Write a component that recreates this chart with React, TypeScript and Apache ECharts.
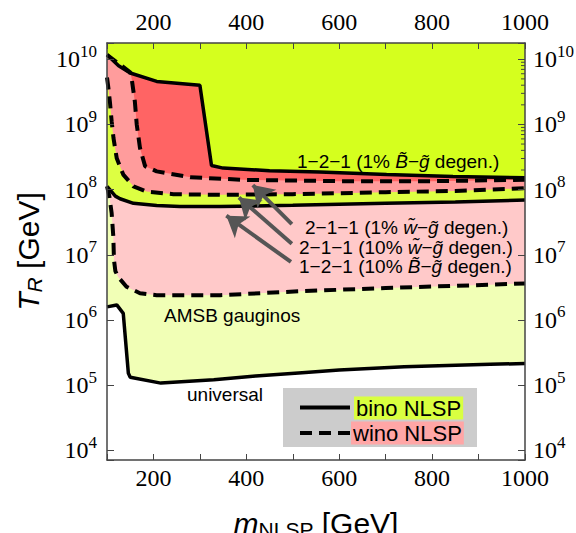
import React, { useEffect, useRef } from 'react';
import * as echarts from 'echarts';

// NLSP mass [GeV] and log10(T_R / GeV)
const binoUpperM = [100, 125, 150, 207, 300, 325, 350, 450, 558, 702, 845, 1000];
const binoUpperLogT = [10.07, 9.9, 9.79, 9.66, 9.6, 8.37, 8.33, 8.29, 8.27, 8.23, 8.2, 8.18];

const winoUpperM = [100, 150, 153, 160, 164, 171, 182, 207, 279, 394, 600, 800, 1000];
const winoUpperLogT = [10.07, 9.8, 9.71, 9.35, 9.0, 8.64, 8.36, 8.28, 8.19, 8.15, 8.13, 8.13, 8.15];

const winoMidM = [100, 103, 106.5, 110, 114, 121, 135, 157, 185, 243, 343, 500, 700, 850, 1000];
const winoMidLogT = [9.72, 9.56, 9.33, 9.05, 8.79, 8.48, 8.23, 8.05, 7.97, 7.93, 7.92, 7.93, 7.96, 7.98, 8.02];

const binoMidM = [100, 106, 118, 128, 157, 207, 257, 343, 500, 700, 850, 1000];
const binoMidLogT = [8.05, 8.0, 7.9, 7.86, 7.79, 7.755, 7.74, 7.74, 7.76, 7.79, 7.81, 7.84];

const amsbM = [100, 105, 110, 113.6, 115, 118, 124, 142, 171, 207, 257, 344, 516, 700, 925, 1000];
const amsbLogT = [8.05, 7.9, 7.64, 7.28, 6.92, 6.75, 6.66, 6.51, 6.41, 6.38, 6.38, 6.38, 6.44, 6.49, 6.54, 6.56];

const universalM = [100, 121, 135, 146, 150, 216, 330, 420, 520, 600, 740, 925, 1000];
const universalLogT = [6.2, 6.23, 6.1, 5.18, 5.12, 5.03, 5.08, 5.14, 5.19, 5.23, 5.28, 5.32, 5.33];

// arrows: [m, log10 T] tails and heads
const arrowTails = [[498, 7.47], [498, 7.17], [496, 6.89]];
const arrowHeads = [[414, 8.07], [384, 7.88], [357, 7.6]];

const xMin = 100;
const xMax = 1000;
const yMin = 3.85;
const yMax = 10.25;
const xLabelStep = 200;

const SANS = 'Liberation Sans';
const SERIF = 'Liberation Serif';
const AXIS_COLOR = '#444';
const ANN_SIZE = 19;

const pairs = (m: number[], t: number[]) => m.map((v, i) => [v, t[i]]);

const isInt = (v: number) => Math.abs(v - Math.round(v)) < 1e-6;

const yLabelRich = {
  b: { fontFamily: SERIF, fontSize: 24, color: '#000', lineHeight: 24 },
  s: { fontFamily: SERIF, fontSize: 17, color: '#000', padding: [0, 0, 16, 0] },
};

const annRich = {
  n: { fontFamily: SANS, fontSize: ANN_SIZE, color: '#000' },
  i: { fontFamily: SANS, fontSize: ANN_SIZE, color: '#000', fontStyle: 'italic' },
};

export default function App() {
  const ref = useRef<HTMLDivElement>(null);

  useEffect(() => {
    if (!ref.current) return;
    const chart = echarts.init(ref.current, undefined, { renderer: 'svg' });

    const minorTickLogs: number[] = [];
    for (let d = 3; d <= 10; d++) {
      for (let k = 2; k <= 9; k++) {
        const v = d + Math.log10(k);
        if (v > yMin && v < yMax) minorTickLogs.push(v);
      }
    }

    const fills = [
      { d: pairs(binoUpperM, binoUpperLogT), c: '#ff6464' },
      { d: pairs(winoUpperM, winoUpperLogT), c: '#ff9c9c' },
      { d: pairs(winoMidM, winoMidLogT), c: '#ddff42' },
      { d: pairs(binoMidM, binoMidLogT), c: '#ffc9c9' },
      { d: pairs(amsbM, amsbLogT), c: '#f1ffb6' },
      { d: pairs(universalM, universalLogT), c: '#ffffff' },
    ];
    const dashedLines = [
      pairs(winoUpperM, winoUpperLogT),
      pairs(winoMidM, winoMidLogT),
      pairs(amsbM, amsbLogT),
    ];
    const solidLines = [
      pairs(binoUpperM, binoUpperLogT),
      pairs(binoMidM, binoMidLogT),
      pairs(universalM, universalLogT),
    ];

    const series: any[] = [];
    fills.forEach((f) => {
      series.push({
        type: 'line',
        data: f.d,
        showSymbol: false,
        silent: true,
        lineStyle: { width: 0 },
        areaStyle: { color: f.c, opacity: 1, origin: 'start' },
      });
    });
    series.push({
      type: 'custom',
      silent: true,
      data: minorTickLogs.map((v) => [xMin, v]),
      encode: { x: 0, y: 1 },
      renderItem: (params: any, api: any) => {
        const y = api.coord([xMin, api.value(1)])[1];
        const cs = params.coordSys;
        return {
          type: 'group',
          children: [
            { type: 'line', shape: { x1: cs.x, y1: y, x2: cs.x + 4, y2: y }, style: { stroke: AXIS_COLOR, lineWidth: 1 } },
            { type: 'line', shape: { x1: cs.x + cs.width - 4, y1: y, x2: cs.x + cs.width, y2: y }, style: { stroke: AXIS_COLOR, lineWidth: 1 } },
          ],
        };
      },
    });
    dashedLines.forEach((d) => {
      series.push({
        type: 'line',
        data: d,
        showSymbol: false,
        silent: true,
        lineStyle: { color: '#000', width: 4, type: [12, 7] },
      });
    });
    solidLines.forEach((d, idx) => {
      const s: any = {
        type: 'line',
        data: d,
        showSymbol: false,
        silent: true,
        lineStyle: { color: '#000', width: 3.5 },
      };
      if (idx === 2) {
        s.markLine = {
          silent: true,
          symbol: ['none', 'arrow'],
          symbolSize: 20,
          label: { show: false },
          lineStyle: { color: '#555', width: 4, type: 'solid' },
          data: arrowTails.map((t, i) => [
            { coord: t },
            { coord: arrowHeads[i] },
          ]),
        };
      }
      series.push(s);
    });

    const xAxisBase = (position: 'bottom' | 'top', margin: number) => ({
      type: 'value',
      position,
      min: xMin,
      max: xMax,
      interval: 100,
      z: 10,
      axisLine: { show: true, lineStyle: { color: AXIS_COLOR, width: 1.5 } },
      axisTick: { show: true, inside: true, length: 6, lineStyle: { color: AXIS_COLOR } },
      splitLine: { show: false },
      axisLabel: {
        margin,
        fontFamily: SERIF,
        fontSize: 24,
        color: '#000',
        formatter: (v: number) => (v % xLabelStep === 0 ? String(v) : ''),
      },
    });

    const yAxisBase = (position: 'left' | 'right', margin: number) => ({
      type: 'value',
      position,
      min: yMin,
      max: yMax,
      z: 10,
      axisLine: { show: true, lineStyle: { color: AXIS_COLOR, width: 1.5 } },
      axisTick: { show: true, inside: true, length: 7, lineStyle: { color: AXIS_COLOR } },
      splitLine: { show: false },
      axisLabel: {
        margin,
        formatter: (v: number) => (isInt(v) ? `{b|10}{s|${Math.round(v)}}` : ''),
        rich: yLabelRich,
      },
    });

    const option: any = {
      animation: false,
      grid: {
        left: 107,
        right: 51,
        top: 43,
        bottom: 73,
        show: true,
        backgroundColor: '#d5ff1e',
        borderWidth: 0,
        containLabel: false,
        outerBoundsMode: 'none',
      },
      xAxis: [
        {
          ...xAxisBase('bottom', 6),
          name: '{i|m}{sub|NLSP}{n| [GeV]}',
          nameLocation: 'middle',
          nameGap: 47,
          nameTextStyle: {
            fontFamily: SANS,
            fontSize: 30,
            color: '#000',
            rich: {
              i: { fontFamily: SANS, fontSize: 30, fontStyle: 'italic', color: '#000' },
              sub: { fontFamily: SANS, fontSize: 21, color: '#000', padding: [12, 0, 0, 0] },
              n: { fontFamily: SANS, fontSize: 30, color: '#000' },
            },
          },
        },
        xAxisBase('top', 9),
      ],
      yAxis: [
        {
          ...yAxisBase('left', 10),
          name: '{i|T}{sub|R}{n| [GeV]}',
          nameLocation: 'middle',
          nameRotate: 90,
          nameGap: 58,
          nameTextStyle: {
            fontFamily: SANS,
            fontSize: 30,
            color: '#000',
            rich: {
              i: { fontFamily: SANS, fontSize: 30, fontStyle: 'italic', color: '#000' },
              sub: { fontFamily: SANS, fontSize: 21, fontStyle: 'italic', color: '#000', padding: [12, 0, 0, 0] },
              n: { fontFamily: SANS, fontSize: 30, color: '#000' },
            },
          },
        },
        yAxisBase('right', 8),
      ],
      series,
      graphic: [
        {
          type: 'text', x: 297, y: 161, z: 20,
          style: { text: '{n|1−2−1 (1% }{i|B\u0303}{n|−}{i|g\u0303}{n| degen.)}', rich: annRich, verticalAlign: 'middle' },
        },
        {
          type: 'text', x: 305, y: 227, z: 20,
          style: { text: '{n|2−1−1 (1% }{i|w\u0303}{n|−}{i|g\u0303}{n| degen.)}', rich: annRich, verticalAlign: 'middle' },
        },
        {
          type: 'text', x: 299, y: 247, z: 20,
          style: { text: '{n|2−1−1 (10% }{i|w\u0303}{n|−}{i|g\u0303}{n| degen.)}', rich: annRich, verticalAlign: 'middle' },
        },
        {
          type: 'text', x: 299, y: 266, z: 20,
          style: { text: '{n|1−2−1 (10% }{i|B\u0303}{n|−}{i|g\u0303}{n| degen.)}', rich: annRich, verticalAlign: 'middle' },
        },
        {
          type: 'text', x: 164, y: 315, z: 20,
          style: { text: 'AMSB gauginos', fontFamily: SANS, fontSize: ANN_SIZE, fill: '#000', verticalAlign: 'middle' },
        },
        {
          type: 'text', x: 187, y: 394, z: 20,
          style: { text: 'universal', fontFamily: SANS, fontSize: ANN_SIZE, fill: '#000', verticalAlign: 'middle' },
        },
        {
          type: 'rect', z: 20,
          shape: { x: 283, y: 388, width: 194, height: 59 },
          style: { fill: '#cccccc' },
        },
        {
          type: 'line', z: 21,
          shape: { x1: 300, y1: 407.5, x2: 350, y2: 407.5 },
          style: { stroke: '#000', lineWidth: 4 },
        },
        {
          type: 'line', z: 21,
          shape: { x1: 300, y1: 433, x2: 350, y2: 433 },
          style: { stroke: '#000', lineWidth: 4, lineDash: [12, 7] },
        },
        {
          type: 'text', x: 354, y: 408, z: 21,
          style: {
            text: 'bino NLSP', fontFamily: SANS, fontSize: 22, fill: '#000',
            backgroundColor: '#d9ff40', padding: [1, 2, 0, 2], verticalAlign: 'middle',
          },
        },
        {
          type: 'text', x: 351, y: 433, z: 21,
          style: {
            text: 'wino NLSP', fontFamily: SANS, fontSize: 22, fill: '#000',
            backgroundColor: '#ffa6a6', padding: [1, 2, 0, 2], verticalAlign: 'middle',
          },
        },
      ],
    };

    chart.setOption(option);
    return () => chart.dispose();
  }, []);

  return (
    <div
      ref={ref}
      style={{ position: 'absolute', left: 0, top: 0, width: 576, height: 533, background: '#fff' }}
    />
  );
}
